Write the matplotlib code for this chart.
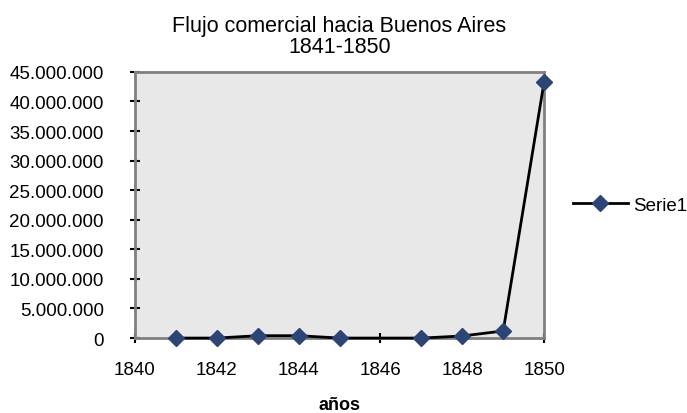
import matplotlib
matplotlib.use('Agg')
import matplotlib.pyplot as plt
from matplotlib.ticker import FuncFormatter

anios = [1841, 1842, 1843, 1844, 1845, 1847, 1848, 1849, 1850]
valores = [0, 0, 400000, 400000, 0, 0, 350000, 1200000, 43300000]
serie = 'Serie1'

plt.rcParams['font.family'] = ['Liberation Sans', 'DejaVu Sans']

fig = plt.figure(figsize=(6.87, 4.14), dpi=100)
ax = fig.add_axes([0.1965, 0.181, 0.5955, 0.643])
ax.set_facecolor('#e8e8e8')

ax.plot(anios, valores, color='black', lw=2, marker='D', ms=8,
        mfc='#2c4476', mec='#2c4476', label=serie, zorder=3, clip_on=False)

ax.set_xlim(1840, 1850)
ax.set_ylim(0, 45000000)
ax.set_xticks(range(1840, 1851, 2))
ax.set_yticks(range(0, 45000001, 5000000))
ax.yaxis.set_major_formatter(FuncFormatter(lambda v, p: f'{int(v):,}'.replace(',', '.')))

for s in ax.spines.values():
    s.set_color('#808080')
    s.set_linewidth(2)
ax.tick_params(direction='inout', length=7, width=1.5, colors='black', labelsize=13.5)
ax.tick_params(axis='x', pad=13)
ax.tick_params(axis='y', pad=19)

ax.set_title('Flujo comercial hacia Buenos Aires\n1841-1850', fontsize=15.5, pad=14,
             linespacing=1.0)
ax.set_xlabel('años', fontsize=13, fontweight='bold', labelpad=13)

ax.legend(loc='center left', bbox_to_anchor=(1.071, 0.5), frameon=False, fontsize=13.5,
          handlelength=2.9, handletextpad=0.3, borderpad=0, borderaxespad=0)

fig.savefig('out.png', dpi=100)
